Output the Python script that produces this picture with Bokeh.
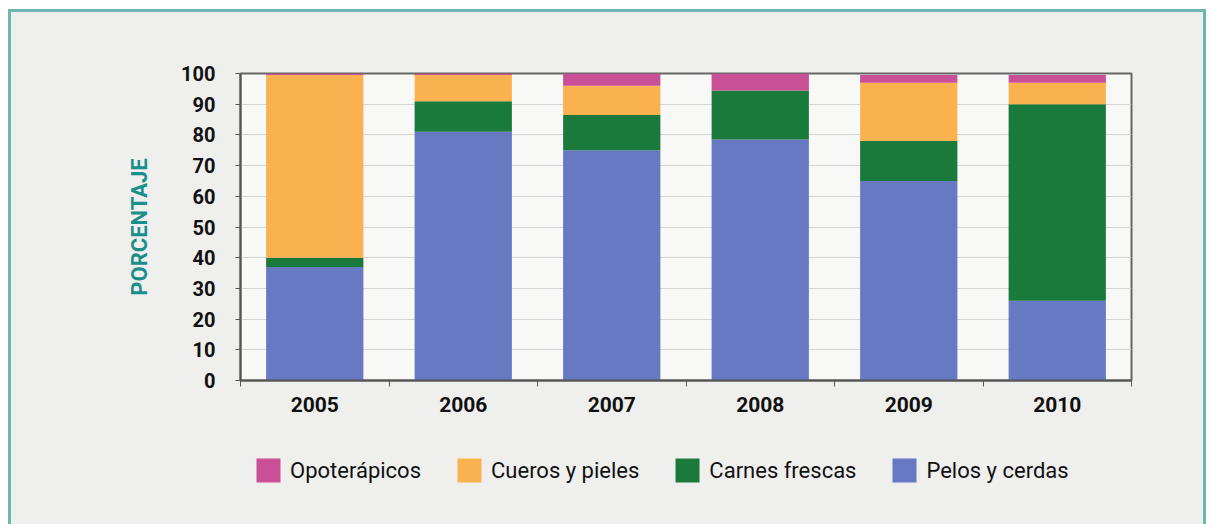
from bokeh.plotting import figure
from bokeh.layouts import column
from bokeh.models import ColumnDataSource, FixedTicker, Legend, LegendItem
from bokeh.embed import file_html
from bokeh.resources import INLINE

years = ["2005", "2006", "2007", "2008", "2009", "2010"]
pelos = [37, 81, 75, 78.5, 65, 26]
carnes = [3, 10, 11.5, 16, 13, 64]
cueros = [59.5, 8.5, 9.5, 0, 19, 7]
opo = [0.5, 0.5, 4, 5.5, 2.5, 2.5]

series = ["Pelos y cerdas", "Carnes frescas", "Cueros y pieles", "Opoterápicos"]
keys = ["pelos", "carnes", "cueros", "opo"]
colors = ["#6679c2", "#1a7a3b", "#f9b24f", "#c94f96"]
yticks = list(range(0, 101, 10))

xs = list(range(len(years)))
source = ColumnDataSource(dict(x=xs, pelos=pelos, carnes=carnes, cueros=cueros, opo=opo))

BG = "#efefed"
OX, OY, B = 8, 9, 3            # window offset of the panel, border width
W = 1192
TOP = OY + B                   # canvas top in window coords
FL, FR, FT, FB = 240, 1131, 73, 380   # frame edges (window coords)
H1 = 425 - TOP
H2 = 100

p = figure(width=W, height=H1, output_backend="svg", toolbar_location=None,
           x_range=(-0.5, len(years) - 0.5), y_range=(0, 100),
           min_border_left=FL - OX - B, min_border_right=OX + B + W - FR,
           min_border_top=FT - TOP, min_border_bottom=TOP + H1 - FB)

p.background_fill_color = "#f8f8f7"
p.border_fill_color = BG
p.outline_line_color = "#666666"
p.outline_line_width = 2

renderers = p.vbar_stack(keys, x="x", width=0.655, source=source, color=colors,
                         line_color=None)

# grid
p.xgrid.grid_line_color = None
p.ygrid.ticker = FixedTicker(ticks=yticks)
p.ygrid.grid_line_color = "#d4d4d4"
p.ygrid.grid_line_width = 1

# y axis
p.yaxis.ticker = FixedTicker(ticks=yticks)
p.yaxis.axis_line_color = "#555555"
p.yaxis.axis_line_width = 2
p.yaxis.major_tick_line_color = "#555555"
p.yaxis.major_tick_out = 5
p.yaxis.major_tick_in = 0
p.yaxis.minor_tick_line_color = None
p.yaxis.major_label_text_font = "Roboto"
p.yaxis.major_label_text_font_style = "bold"
p.yaxis.major_label_text_font_size = "20px"
p.yaxis.major_label_text_color = "#111111"
p.yaxis.major_label_standoff = 20
p.yaxis.axis_label = "PORCENTAJE"
p.yaxis.axis_label_text_font = "Roboto"
p.yaxis.axis_label_text_font_style = "bold"
p.yaxis.axis_label_text_font_size = "22px"
p.yaxis.axis_label_text_color = "#1a8f8a"
p.yaxis.axis_label_standoff = 26

# x axis
p.xaxis.ticker = FixedTicker(ticks=xs, minor_ticks=[i - 0.5 for i in range(len(years) + 1)])
p.xaxis.major_label_overrides = {i: y for i, y in zip(xs, years)}
p.xaxis.axis_line_color = "#555555"
p.xaxis.axis_line_width = 2
p.xaxis.major_tick_line_color = None
p.xaxis.minor_tick_line_color = "#555555"
p.xaxis.minor_tick_out = 6
p.xaxis.minor_tick_in = 0
p.xaxis.major_label_text_font = "Roboto"
p.xaxis.major_label_text_font_style = "bold"
p.xaxis.major_label_text_font_size = "21px"
p.xaxis.major_label_text_color = "#111111"
p.xaxis.major_label_standoff = 10

# legend strip (its frame is aligned with the chart's frame by the column layout)
q = figure(width=W, height=H2, output_backend="svg", toolbar_location=None,
           x_range=(-0.5, len(years) - 0.5), y_range=(0, 100),
           x_axis_location=None, y_axis_location=None, min_border=0)
q.background_fill_color = BG
q.border_fill_color = BG
q.outline_line_color = None
q.grid.grid_line_color = None
swatches = q.vbar_stack(keys, x="x", width=0.655, source=source, color=colors,
                        line_color=None, visible=False)
items = [LegendItem(label=series[i], renderers=[swatches[i]]) for i in [3, 2, 1, 0]]
legend = Legend(items=items, orientation="horizontal",
                location=(253 - FL, H2 - (485 - 425)),
                background_fill_alpha=0, border_line_color=None,
                inactive_fill_alpha=0,
                glyph_width=30, glyph_height=30, label_text_font="Roboto",
                label_text_font_size="22px", label_text_color="#111111",
                label_text_baseline="middle",
                spacing=33, label_standoff=7, padding=0, margin=0)
q.add_layout(legend, "center")

layout = column(p, q, spacing=0)
layout.styles = {"border-left": f"{B}px solid #6db6b2", "border-top": f"{B}px solid #6db6b2",
                 "border-right": f"{B}px solid #6db6b2",
                 "margin-left": f"{OX}px", "margin-top": f"{OY}px",
                 "background-color": BG}

open("out.html", "w").write(file_html(layout, INLINE))
